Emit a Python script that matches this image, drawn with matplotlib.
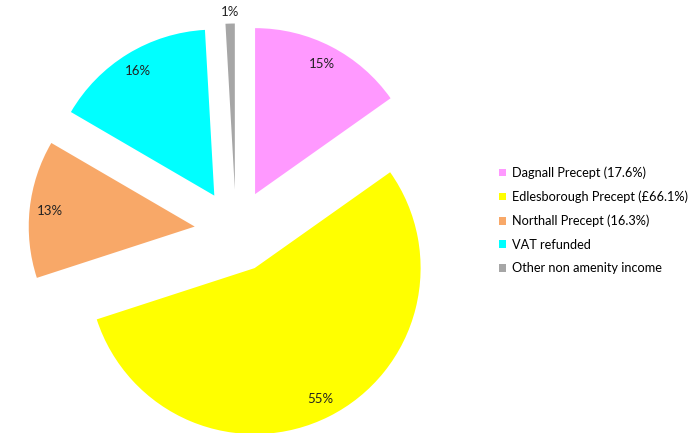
import numpy as np
import matplotlib
matplotlib.use('Agg')
import matplotlib.pyplot as plt

plt.rcParams['font.family'] = ['Lato', 'DejaVu Sans']

# share of income (percent of total)
labels = ['Dagnall Precept (17.6%)', 'Edlesborough Precept (£66.1%)',
          'Northall Precept (16.3%)', 'VAT refunded', 'Other non amenity income']
values = [15.2, 54.8, 13.4, 15.7, 0.9]
colors = ['#FF99FF', '#FFFF00', '#F8A868', '#00FFFF', '#A6A6A6']
explode = [0.25, 0.25, 0.25, 0.25, 0.25]

fig = plt.figure(figsize=(6.95, 4.33), dpi=100)
ax = fig.add_axes([0, 0, 1, 1])

wedges, texts, autotexts = ax.pie(values, colors=colors, explode=explode,
                                  startangle=90, counterclock=False,
                                  autopct='%1.0f%%', pctdistance=0.88,
                                  textprops={'fontsize': 9.5, 'color': '#222222'})

# tiny slice label sits just outside, like the original
w = wedges[4]
mid = np.deg2rad((w.theta1 + w.theta2) / 2)
cx, cy = w.center
autotexts[4].set_position((cx + 1.07 * np.cos(mid), cy + 1.07 * np.sin(mid)))

r = 166.0
ax.set_xlim(-236 / r, (695 - 236) / r)
ax.set_ylim(-202 / r, 231 / r)
ax.set_aspect('equal')
ax.axis('off')

leg = fig.legend(wedges, labels, loc='center left', bbox_to_anchor=(0.702, 0.491),
                 frameon=False, fontsize=9.2, handlelength=0.55, handleheight=0.55,
                 handletextpad=0.4, labelspacing=0.9)

fig.savefig('out.png', dpi=100)
